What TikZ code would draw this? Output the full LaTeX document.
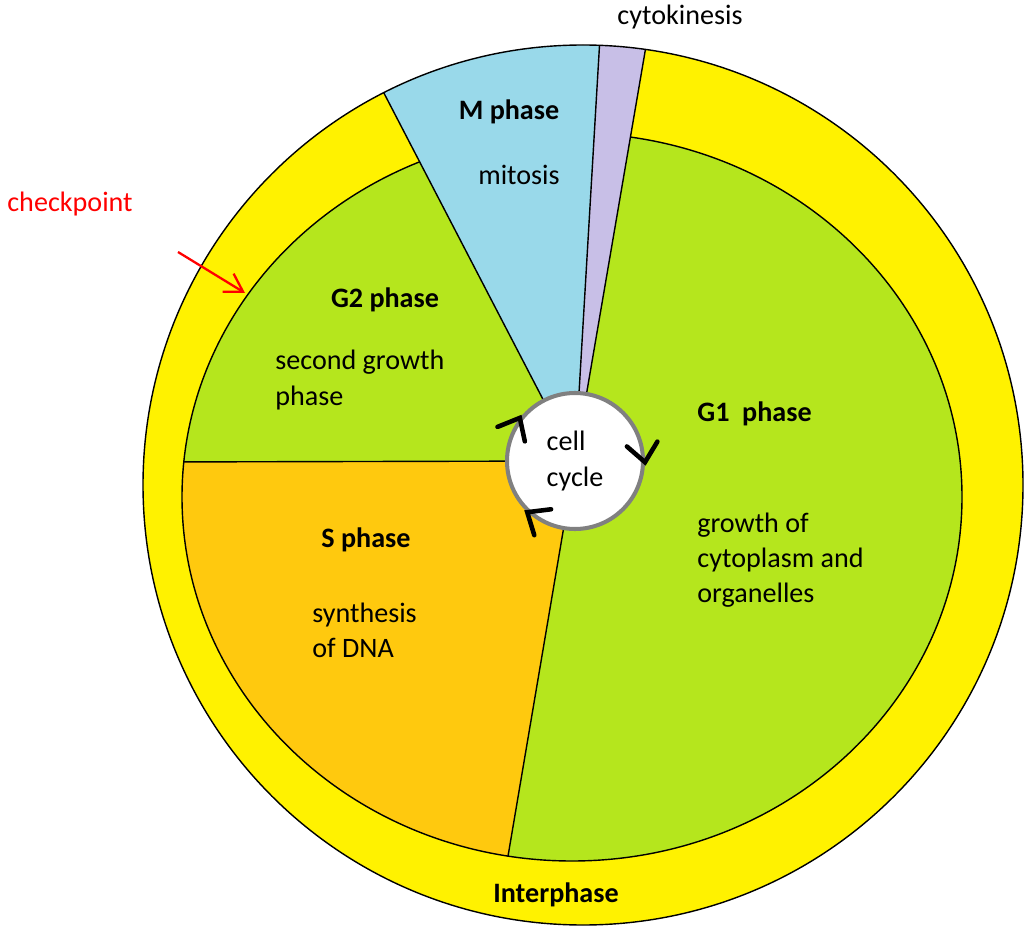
\documentclass[tikz,border=0pt]{standalone}
\usepackage{fontspec}
\setmainfont{Carlito}
\usepackage{xcolor}
\usetikzlibrary{arrows.meta, positioning, calc}

\definecolor{ringyellow}{HTML}{FFF200}
\definecolor{phasegreen}{HTML}{B5E61D}
\definecolor{sorange}{HTML}{FFC90E}
\definecolor{mblue}{HTML}{99D9EA}
\definecolor{cytopurple}{HTML}{C8BFE7}

\begin{document}
\begin{tikzpicture}[>=Latex,
    border/.style={draw=black, line width=0.8pt},
    phasetext/.style={font=\fontsize{16}{20}\selectfont, inner sep=0pt},
    phasename/.style={font=\fontsize{16}{20}\selectfont\bfseries, inner sep=0pt},
    tipline/.style={line width=2.6pt, line cap=round}]
    \useasboundingbox (0, 0) rectangle (20.5, 18.58);
    % rings
    \fill[ringyellow] (11.66, 8.88) circle (8.8);
    \fill[phasegreen] (11.44, 8.64) ellipse (7.8 and 7.28);
    \coordinate (H) at (11.5, 9.36);
    \begin{scope}
        \clip (11.44, 8.64) ellipse (7.8 and 7.28);
        \fill[sorange] (H) -- (3, 9.34) -- (2.5, 0.5) -- (10.03, 0.69) -- cycle;
        \draw[border] (H) -- (3, 9.34);
        \draw[border] (H) -- (10.03, 0.69);
    \end{scope}
    \draw[border] (11.44, 8.64) ellipse (7.8 and 7.28);
    \begin{scope}
        \clip (11.66, 8.88) circle (8.8);
        \fill[mblue] (H) -- (7.2, 17.64) -- (12.04, 18.52) -- cycle;
        \fill[cytopurple] (H) -- (12.04, 18.52) -- (13.04, 18.36) -- cycle;
        \draw[border] (H) -- (7.2, 17.64);
        \draw[border] (H) -- (12.04, 18.52);
        \draw[border] (H) -- (13.04, 18.36);
    \end{scope}
    \draw[border] (11.66, 8.88) circle (8.8);

    % hub
    \node[circle, minimum size=2.72cm, fill=white, draw=gray, line width=2.3pt,
        align=left, font=\fontsize{16}{20}\selectfont] (hub) at (H) {cell\\cycle};
    \foreach \a in {142, 359, 227}
        \draw[tipline] ([shift={(\a+60:0.48)}]hub.\a) -- (hub.\a) -- ([shift={(\a+140:0.48)}]hub.\a);

    \node[phasetext, anchor=base west] (cyto) at (12.34, 18.08) {cytokinesis};
    \node[phasename, anchor=base] (mph) at (10.18, 16.18) {M phase};
    \node[phasetext, anchor=base] (mit) at (10.38, 14.88) {mitosis};
    \node[phasename, anchor=base] (g2) at (7.7, 12.42) {G2 phase};
    \node[phasetext, anchor=west, align=left] (g2t) at (5.5, 10.98) {second growth\\phase};
    \node[phasename, anchor=base west] (g1) at (13.94, 10.14) {G1\ \ phase};
    \node[phasetext, anchor=west, align=left] (g1t) at (13.94, 7.38) {growth of\\cytoplasm and\\organelles};
    \node[phasename, anchor=base] (sph) at (7.32, 7.64) {S phase};
    \node[phasetext, anchor=west, align=left] (st) at (6.24, 5.98) {synthesis\\of DNA};
    \node[phasename, anchor=base] (inter) at (11.12, 0.54) {Interphase};

    % checkpoint
    \node[phasetext, text=red, anchor=base west] (chk) at (0.14, 14.34) {checkpoint};
    \coordinate (chkA) at (3.56, 13.54);
    \coordinate (chkB) at (4.9, 12.72);
    \draw[red, line width=1.3pt, -{Straight Barb[length=10pt, width=12pt]}] (chkA) -- (chkB);
\end{tikzpicture}
\end{document}
